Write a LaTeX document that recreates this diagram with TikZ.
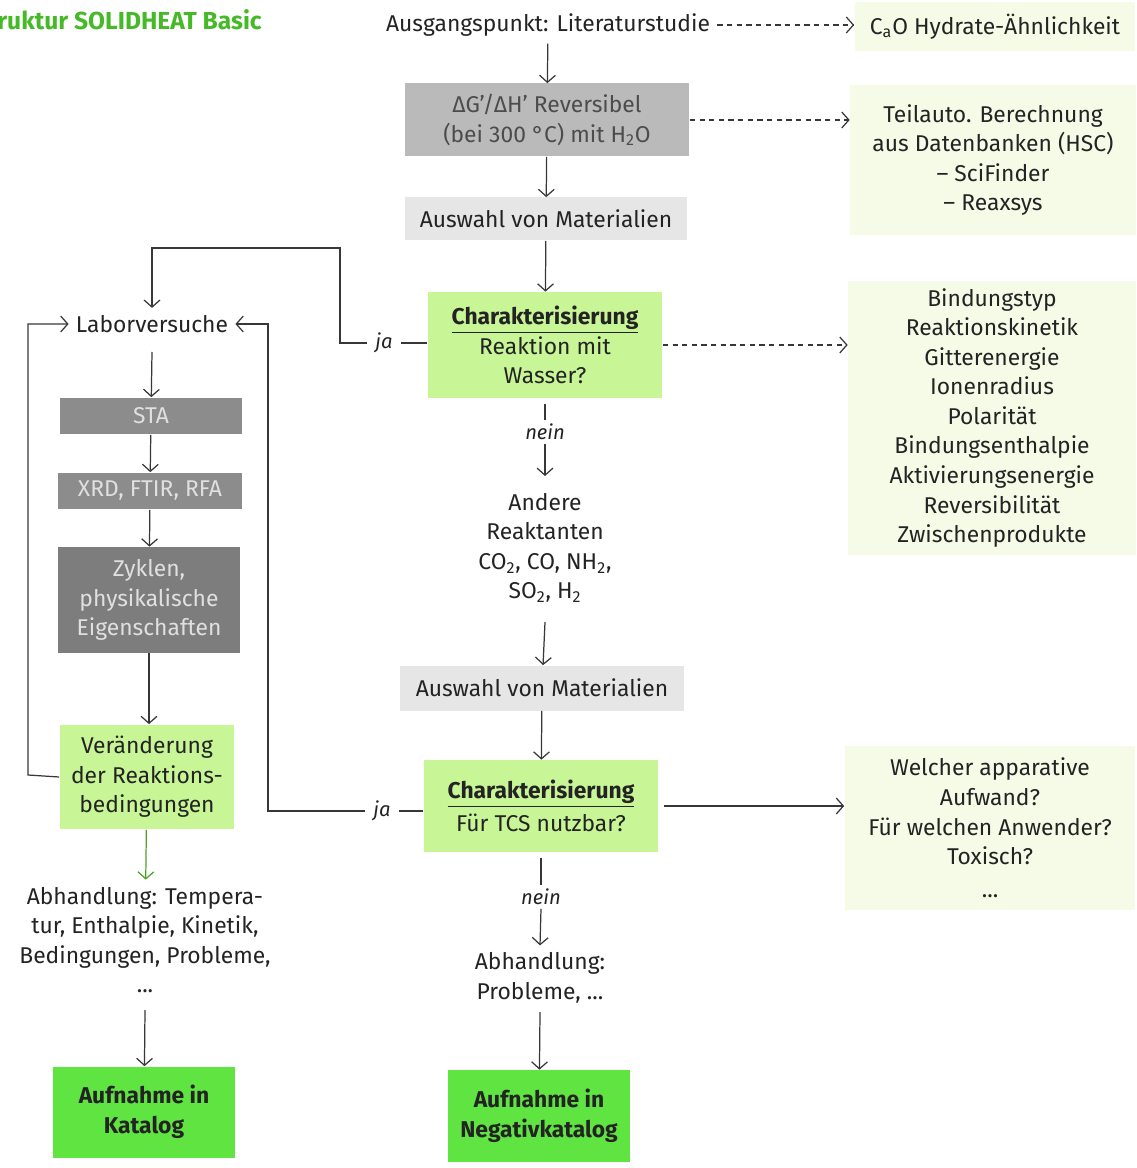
\documentclass[tikz,border=0pt]{standalone}
\usepackage{fontspec}
\setmainfont{Fira Sans}
\usetikzlibrary{arrows.meta}
\usetikzlibrary{positioning}

\definecolor{txtgray}{RGB}{35,35,35}
\definecolor{linegray}{RGB}{55,55,55}
\definecolor{titlegreen}{RGB}{70,185,40}
\definecolor{arrgreen}{RGB}{80,160,40}
\definecolor{boxmid}{RGB}{186,186,186}
\definecolor{boxlight}{RGB}{230,230,230}
\definecolor{boxdark}{RGB}{140,140,140}
\definecolor{boxdarker}{RGB}{125,125,125}
\definecolor{softgreen}{RGB}{200,245,150}
\definecolor{brightgreen}{RGB}{95,228,65}
\definecolor{palegreen}{RGB}{246,251,232}

\tikzset{
  box/.style={rectangle, align=center, inner sep=2pt, text=txtgray},
  plain/.style={box, inner sep=4pt},
  midbox/.style={box, fill=boxmid, text=black!70},
  lightbox/.style={box, fill=boxlight},
  darkbox/.style={box, fill=boxdark, text=white!88!black},
  greenbox/.style={box, fill=softgreen},
  brightbox/.style={box, fill=brightgreen, font=\fontsize{13}{16.8}\selectfont\bfseries},
  notebox/.style={box, fill=palegreen},
  answer/.style={box, inner xsep=4.5pt, inner ysep=2pt, font=\fontsize{11.5}{14}\selectfont\itshape},
  wire/.style={draw=linegray, line width=0.7pt},
  arr/.style={wire, -{Straight Barb[length=4pt,width=9pt]}},
  dasharr/.style={arr, dash pattern=on 3pt off 2.5pt},
}

\begin{document}
\begin{tikzpicture}[x=0.02cm, y=-0.02cm, font=\fontsize{13}{16.8}\selectfont]
\useasboundingbox (0,0) rectangle (1136,1168);

\node[anchor=west, inner sep=0pt, text=titlegreen, font=\fontsize{14}{16}\selectfont\bfseries] (title) at (-3,20) {ruktur SOLIDHEAT Basic};

% middle column
\node[plain] (start) at (548,25) {Ausgangspunkt: Literaturstudie};
\node[notebox, minimum width=5.62cm, minimum height=0.98cm] (hydrate) at (995,27) {C\textsubscript{a}O Hydrate-Ähnlichkeit};
\node[midbox, minimum width=5.7cm, minimum height=1.46cm] (dg) at (547,120) {ΔG'/ΔH' Reversibel\\(bei 300 °C) mit H\textsubscript{2}O};
\node[notebox, minimum width=5.72cm, minimum height=3.0cm] (calc) at (993,160) {Teilauto. Berechnung\\aus Datenbanken (HSC)\\– SciFinder\\– Reaxsys};
\node[lightbox, minimum width=5.66cm, minimum height=0.86cm] (sel1) at (546,219) {Auswahl von Materialien};
\node[greenbox, minimum width=4.7cm, minimum height=2.12cm] (char1) at (545,345) {\underline{\textbf{Charakterisierung}}\\Reaktion mit\\Wasser?};
\node[notebox, minimum width=5.76cm, minimum height=5.5cm] (props) at (992,418) {Bindungstyp\\Reaktionskinetik\\Gitterenergie\\Ionenradius\\Polarität\\Bindungsenthalpie\\Aktivierungsenergie\\Reversibilität\\Zwischenprodukte};
\node[answer] (nein1) at (545,432) {nein};
\node[plain] (other) at (545,548) {Andere\\Reaktanten\\CO\textsubscript{2}, CO, NH\textsubscript{2},\\SO\textsubscript{2}, H\textsubscript{2}};
\node[lightbox, minimum width=5.7cm, minimum height=0.9cm] (sel2) at (542,688) {Auswahl von Materialien};
\node[greenbox, minimum width=4.7cm, minimum height=1.84cm] (char2) at (541,806) {\underline{\textbf{Charakterisierung}}\\[2pt]Für TCS nutzbar?};
\node[notebox, minimum width=5.82cm, minimum height=3.3cm] (user) at (990,828) {Welcher apparative\\Aufwand?\\Für welchen Anwender?\\Toxisch?\\[2pt]...};
\node[answer] (nein2) at (541,897) {nein};
\node[plain] (abh2) at (540,978) {Abhandlung:\\Probleme, ...};
\node[brightbox, minimum width=3.64cm, minimum height=1.84cm] (neg) at (539,1116) {Aufnahme in\\Negativkatalog};
\node[answer] (ja1) at (384,343) {ja};
\node[answer] (ja2) at (382,811) {ja};

% left column
\node[plain] (labor) at (152,324) {Laborversuche};
\node[darkbox, minimum width=3.64cm, minimum height=0.74cm] (sta) at (151,416) {STA};
\node[darkbox, minimum width=3.7cm, minimum height=0.74cm] (xrd) at (150,491) {XRD, FTIR, RFA};
\node[darkbox, fill=boxdarker, minimum width=3.66cm, minimum height=2.12cm] (zyk) at (149,600) {Zyklen,\\physikalische\\Eigenschaften};
\node[greenbox, minimum width=3.5cm, minimum height=2.1cm] (var) at (147,777) {Veränderung\\der Reaktions-\\bedingungen};
\node[plain] (abh1) at (145,940) {Abhandlung: Tempera-\\tur, Enthalpie, Kinetik,\\Bedingungen, Probleme,\\...};
\node[brightbox, minimum width=3.64cm, minimum height=1.82cm] (kat) at (144,1112) {Aufnahme in\\Katalog};

\coordinate (j1) at (340,248);
\coordinate (j2) at (268,500);
\coordinate (lp) at (28,775);
\coordinate (n1end) at (545,476);
\coordinate (o1) at (545,622);
\coordinate (a2) at (540,1012);
\coordinate (a1) at (145,1010);
\coordinate (l1) at (152,352);

\draw[dasharr] (start.east) -- (start.east -| hydrate.west);
\draw[arr] (start) -- (dg);
\draw[dasharr] (dg.east) -- (dg.east -| calc.west);
\draw[arr] (dg) -- (sel1);
\draw[arr] (sel1) -- (char1);
\draw[dasharr] (char1.east) -- (char1.east -| props.west);
\draw[wire] ([yshift=-3pt]char1.south) -- (nein1.north);
\draw[arr] (nein1.south) -- (n1end);
\draw[arr] (o1) -- (sel2);
\draw[arr] (sel2) -- (char2);
\draw[arr] ([xshift=3pt]char2.east) -- (char2.east -| user.west);
\draw[wire] ([yshift=-3pt]char2.south) -- (nein2.north);
\draw[arr] (nein2.south) -- (abh2.north);
\draw[arr] (a2) -- (neg);

\draw[wire] (ja1.east) -- (ja1.east -| char1.west);
\draw[arr] (ja1.west) -| (j1) -| (labor.north);
\draw[wire] (ja2.east) -- (ja2.east -| char2.west);
\draw[arr] (ja2.west) -| (j2) |- (labor.east);
\draw[arr] (var.west) -- (lp) |- (labor.west);

\draw[arr] (l1) -- (sta);
\draw[arr] (sta) -- (xrd);
\draw[arr] (xrd) -- (zyk);
\draw[arr] (zyk) -- (zyk.south |- var.north);
\draw[arr, draw=arrgreen] (var) -- (abh1);
\draw[arr] (a1) -- (kat);

\end{tikzpicture}
\end{document}
